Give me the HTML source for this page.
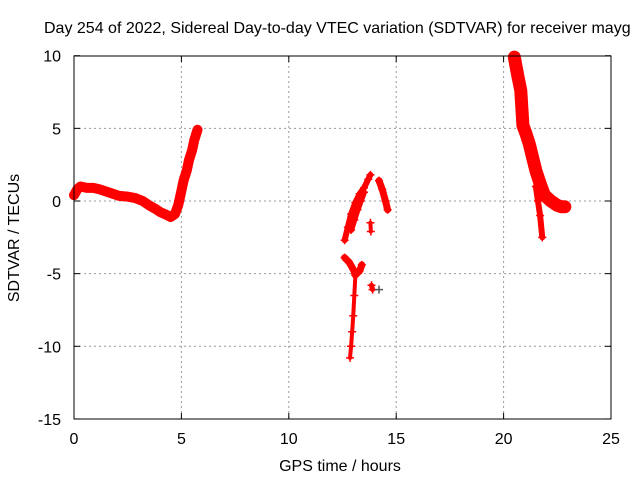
<!DOCTYPE html>
<html><head><meta charset="utf-8"><style>
body{margin:0;background:#fff}
svg{display:block;font-family:"Liberation Sans",sans-serif}
</style></head><body>
<svg id="chart" width="640" height="480">
<text x="44" y="33" text-anchor="start" font-size="16">Day 254 of 2022, Sidereal Day-to-day VTEC variation (SDTVAR) for receiver mayg</text>
<text x="340" y="471" text-anchor="middle" font-size="16">GPS time / hours</text>
<text transform="translate(19,238) rotate(-90)" text-anchor="middle" font-size="16">SDTVAR / TECUs</text>
<g id="grid"></g><g id="marks"></g>
<rect x="74" y="56" width="537" height="363" fill="none" stroke="#000" stroke-width="1"/>
</svg>
<script>
const xTicks=[0,5,10,15,20,25];
const yTicks=[10,5,0,-5,-10,-15];
// track hours / values
const t1H=[0,0.15,0.3,0.6,0.9,1.2,1.6,2.1,2.5,2.85,3.2,3.5,3.8,4.0,4.3,4.5,4.7,4.85,5.0,5.1,5.25,5.35,5.5,5.6,5.75];
const t1V=[0.4,0.8,1.0,0.9,0.9,0.8,0.6,0.35,0.3,0.2,0.0,-0.3,-0.55,-0.75,-0.95,-1.1,-0.9,-0.3,0.7,1.4,2.1,2.8,3.5,4.2,4.9];
const t2H=[12.6,12.75,12.9,13.1,13.3,13.5,13.7,13.8];
const t2V=[-2.7,-1.8,-0.9,-0.1,0.5,0.9,1.5,1.8];
const t3H=[12.9,13.05,13.2,13.35,13.5];
const t3V=[-2.0,-1.3,-0.6,0.0,0.6];
const t4H=[14.2,14.35,14.5,14.6];
const t4V=[1.4,0.8,0.0,-0.6];
const t5H=[12.6,12.8,13.0,13.1,13.3,13.4];
const t5V=[-3.9,-4.2,-4.7,-5.1,-4.8,-4.4];
const t6H=[13.1,13.05,13.0,12.95,12.9,12.85];
const t6V=[-5.1,-6.5,-7.9,-9.0,-10.0,-10.8];
const t7H=[13.8,13.82];
const t7V=[-1.5,-2.1];
const t10H=[13.85,13.9];
const t10V=[-5.8,-6.1];
const t11H=[14.2];
const t11V=[-6.1];
const t8H=[20.5,20.65,20.8,20.9,21.05,21.2,21.35,21.5,21.7,21.9,22.2,22.5,22.7,22.85];
const t8V=[9.9,8.7,7.6,5.2,4.6,3.9,3.0,2.1,1.2,0.4,0.0,-0.3,-0.4,-0.4];
const t9H=[21.5,21.6,21.7,21.8];
const t9V=[1.0,0.0,-1.0,-2.5];
const tracks=[[t1H,t1V,10],[t2H,t2V,6],[t3H,t3V,6],[t4H,t4V,7],[t5H,t5V,7],[t6H,t6V,4],[t7H,t7V,4],[t10H,t10V,5],[t11H,t11V,1],[t8H,t8V,13],[t9H,t9V,6]];
const X=h=>74+h*537/25, Y=v=>201-v*14.53;
const NS="http://www.w3.org/2000/svg";
const g=document.getElementById('grid'), m=document.getElementById('marks');
function el(tag,a,p){const e=document.createElementNS(NS,tag);for(const k in a)e.setAttribute(k,a[k]);p.appendChild(e);return e;}
xTicks.forEach(t=>{const x=X(t);
 if(t>0&&t<25){const l=el('line',{x1:x,y1:56,x2:x,y2:419,stroke:'#999','stroke-dasharray':'2,3'},g);
 
 }
 el('line',{x1:x,y1:419,x2:x,y2:413,stroke:'#000'},g);el('line',{x1:x,y1:56,x2:x,y2:62,stroke:'#000'},g);
 const tx=el('text',{x:x,y:444,'text-anchor':'middle','font-size':16},g);tx.textContent=t;
 
 });
yTicks.forEach(t=>{const y=Y(t);
 if(t<10&&t>-15){const l=el('line',{x1:74,y1:y,x2:611,y2:y,stroke:'#999','stroke-dasharray':'2,3'},g);
 
 }
 el('line',{x1:74,y1:y,x2:80,y2:y,stroke:'#000'},g);el('line',{x1:611,y1:y,x2:605,y2:y,stroke:'#000'},g);
 const tx=el('text',{x:61,y:y+6,'text-anchor':'end','font-size':16},g);tx.textContent=t;
 
 });
tracks.forEach(([H,V,w])=>{
 const pts=H.map((h,i)=>X(h)+','+Y(V[i])).join(' ');
 const pl=el('polyline',{points:pts,fill:'none',stroke:'#f00','stroke-width':w,'stroke-linejoin':'round','stroke-linecap':'round'},m);
 
 
 H.forEach((h,i)=>{const x=X(h),y=Y(V[i]);
  const p=el('path',{d:`M${x-4},${y}h8M${x},${y-4}v8`,stroke:(H===t11H?'#555':'#f00'),'stroke-width':1.5},m);
  
  });
});
</script>
</body></html>
